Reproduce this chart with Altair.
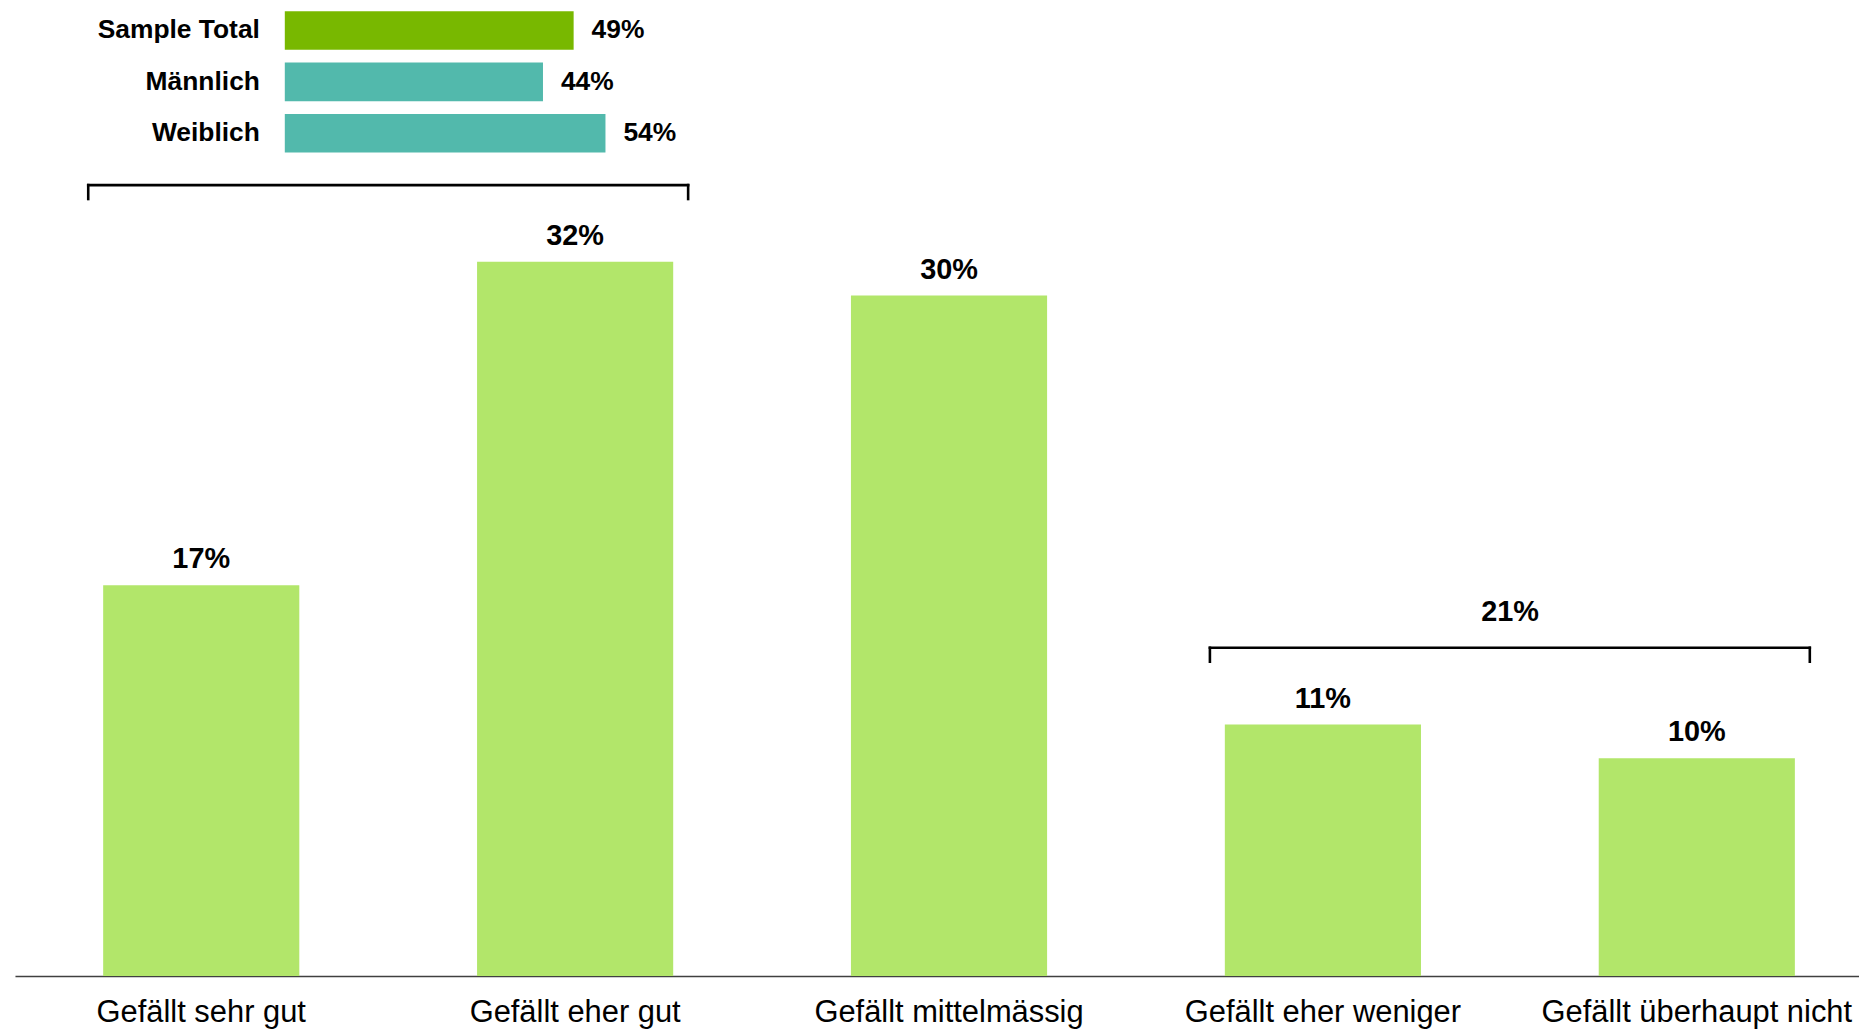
import altair as alt
import pandas as pd

# ---- data ----
categories = ["Gefällt sehr gut", "Gefällt eher gut", "Gefällt mittelmässig",
              "Gefällt eher weniger", "Gefällt überhaupt nicht"]
values = [17.4, 31.8, 30.3, 11.2, 9.7]
value_labels = ["17%", "32%", "30%", "11%", "10%"]

groups = ["Sample Total", "Männlich", "Weiblich"]
group_values = [49.0, 43.8, 54.4]
group_labels = ["49%", "44%", "54%"]
group_colors = ["#78b800", "#52b9ac", "#52b9ac"]

bracket_start = ["Gefällt sehr gut", "Gefällt eher weniger"]
bracket_end = ["Gefällt eher gut", "Gefällt überhaupt nicht"]
bracket_labels = ["", "21%"]

FONT = "Liberation Sans"
BAR_COLOR = "#b2e66a"

main_df = pd.DataFrame({"cat": categories, "value": values, "label": value_labels})
levels = []
for s, e in zip(bracket_start, bracket_end):
    i0, i1 = categories.index(s), categories.index(e)
    levels.append(max(values[i0:i1 + 1]))
br_df = pd.DataFrame({"start": bracket_start, "end": bracket_end,
                      "level": levels, "label": bracket_labels})
inset_df = pd.DataFrame({"group": groups, "value": group_values,
                         "label": group_labels, "color": group_colors})

xscale = alt.Scale(domain=categories, paddingInner=0.4754, paddingOuter=0.2037,
                   align=0.579, round=False)
yscale = alt.Scale(domain=[0, 43], nice=False, zero=True, round=False)

bars = alt.Chart(main_df).mark_bar(color=BAR_COLOR).encode(
    x=alt.X("cat:N", scale=xscale, sort=categories,
            axis=alt.Axis(title=None, ticks=False, tickSize=0, labelPadding=22,
                          labelFontSize=31, labelFont=FONT, labelColor="#000000",
                          labelAngle=0, labelLimit=0, labelOverlap=False,
                          domainColor="#404040", domainWidth=1.5, grid=False)),
    y=alt.Y("value:Q", scale=yscale, axis=None),
)

bar_text = alt.Chart(main_df).mark_text(
    font=FONT, fontSize=29, fontWeight="bold", color="#000000",
    baseline="alphabetic", dy=-17
).encode(
    x=alt.X("cat:N", scale=xscale, sort=categories),
    y=alt.Y("value:Q", scale=yscale),
    text="label:N",
)

RULE = dict(color="#000000", strokeWidth=2.6, strokeCap="square")

hline = alt.Chart(br_df).mark_rule(
    xOffset=-15, x2Offset=15, yOffset=-77, **RULE
).encode(
    x=alt.X("start:N", scale=xscale, bandPosition=0),
    x2=alt.X2("end:N", bandPosition=1),
    y=alt.Y("level:Q", scale=yscale),
)

vleft = alt.Chart(br_df).mark_rule(
    xOffset=-15, yOffset=-77, y2Offset=-63, **RULE
).encode(
    x=alt.X("start:N", scale=xscale, bandPosition=0),
    y=alt.Y("level:Q", scale=yscale),
    y2="level:Q",
)

vright = alt.Chart(br_df).mark_rule(
    xOffset=15, yOffset=-77, y2Offset=-63, **RULE
).encode(
    x=alt.X("end:N", scale=xscale, bandPosition=1),
    y=alt.Y("level:Q", scale=yscale),
    y2="level:Q",
)

br_text = alt.Chart(br_df).mark_text(
    font=FONT, fontSize=29, fontWeight="bold", color="#000000",
    baseline="alphabetic", dx=188, dy=-104
).encode(
    x=alt.X("start:N", scale=xscale),
    y=alt.Y("level:Q", scale=yscale),
    text="label:N",
)

main = alt.layer(bars, bar_text, hline, vleft, vright, br_text)

ix = alt.Scale(domain=[0, 100], range=[271, 863], nice=False, zero=True)
iy = alt.Scale(domain=groups, range=[1, 143], paddingInner=0.25, paddingOuter=0, round=False)

inset_bars = alt.Chart(inset_df).mark_bar().encode(
    x=alt.X("value:Q", scale=ix, axis=None),
    y=alt.Y("group:N", scale=iy, sort=groups, axis=None),
    color=alt.Color("color:N", scale=None),
)

inset_vals = alt.Chart(inset_df).mark_text(
    font=FONT, fontSize=26.5, fontWeight="bold", color="#000000",
    align="left", baseline="middle", dx=18
).encode(
    x=alt.X("value:Q", scale=ix),
    y=alt.Y("group:N", scale=iy, sort=groups),
    text="label:N",
)

inset_names = alt.Chart(inset_df).mark_text(
    font=FONT, fontSize=26.5, fontWeight="bold", color="#000000",
    align="right", baseline="middle", dx=-25
).encode(
    x=alt.X("zero:Q", scale=ix),
    y=alt.Y("group:N", scale=iy, sort=groups),
    text="group:N",
).transform_calculate(zero="0")

inset = alt.layer(inset_bars, inset_vals, inset_names)

chart = alt.layer(main, inset).resolve_scale(
    x="independent", y="independent"
).properties(
    width=1852, height=970,
    padding={"left": 7, "top": 0, "right": 0, "bottom": 0},
    background="#ffffff",
).configure_view(stroke=None)

chart.save("out.html", embed_options={"renderer": "svg", "actions": False})
